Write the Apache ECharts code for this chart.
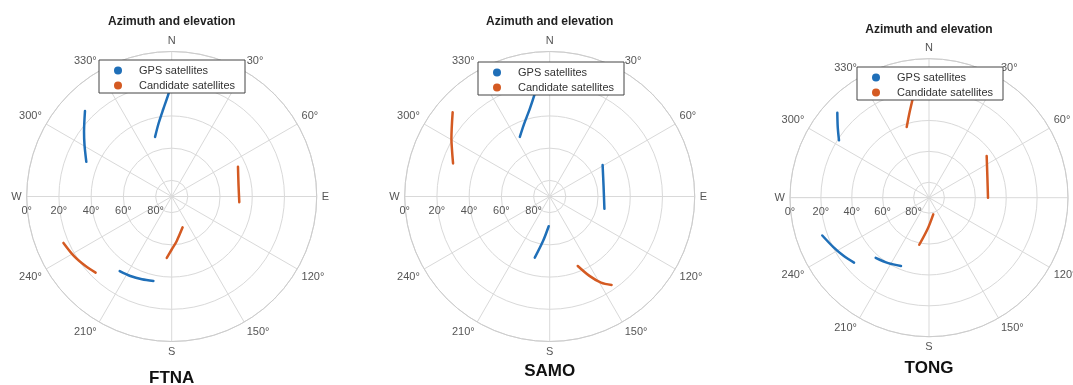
<!DOCTYPE html>
<html>
<head>
<meta charset="utf-8">
<title>Azimuth and elevation</title>
<script src="https://cdn.jsdelivr.net/npm/echarts@6/dist/echarts.min.js"></script>
<style>
  html, body { margin: 0; padding: 0; background: #ffffff; }
  #chart { width: 1073px; height: 385px; }
</style>
</head>
<body>
<div id="chart"></div>
<script>
// Sky tracks per station: each track is a list of [azimuth°, elevation°] samples.
const stations = ['FTNA', 'SAMO', 'TONG'];
const seriesNames = ['GPS satellites', 'Candidate satellites'];
const elevationTicks = [0, 20, 40, 60, 80];
const compassLabels = { 0: 'N', 90: 'E', 180: 'S', 270: 'W' };

const ftnaGps = [
  [[314.6, 14.4], [306.4, 22.4], [300.5, 27.2], [292.1, 32.8]],
  [[359.5, 20.2], [358.2, 26.3], [354.6, 35.3], [349.7, 44.1], [344.4, 51.6]],
  [[214.9, 33.6], [207.5, 34.4], [199.8, 35.4], [192.2, 36.4]]
];
const ftnaCandidate = [
  [[65.8, 44.9], [80.1, 47.9], [94.8, 47.9]],
  [[160.5, 69.7], [173.7, 62.1], [180.0, 57.1], [184.6, 51.8]],
  [[246.8, 16.9], [238.6, 19.0], [231.1, 21.3], [225.0, 23.2]]
];

const samoGps = [
  [[353.8, 19.7], [351.7, 25.6], [347.2, 34.2], [340.7, 42.1], [333.4, 48.6]],
  [[59.3, 51.8], [79.6, 56.0], [102.6, 55.2]],
  [[181.9, 71.5], [188.5, 62.0], [193.7, 50.9]]
];
const samoCandidate = [
  [[311.0, 10.2], [300.5, 19.2], [294.6, 23.4], [288.9, 26.6]],
  [[158.0, 43.5], [153.4, 34.9], [149.2, 27.8], [145.0, 23.0]]
];

const tongGps = [
  [[312.8, 9.1], [307.8, 15.2], [302.5, 20.9]],
  [[250.5, 16.7], [242.7, 20.3], [235.6, 23.2], [229.1, 25.8]],
  [[221.6, 38.0], [211.9, 40.1], [202.3, 42.2]]
];
const tongCandidate = [
  [[352.2, 19.9], [350.3, 26.0], [346.8, 34.1], [342.5, 42.0]],
  [[54.1, 43.9], [70.5, 49.9], [90.0, 51.8]],
  [[165.6, 78.9], [182.4, 69.9], [191.7, 58.9]]
];

const stationTracks = [
  [ftnaGps, ftnaCandidate],
  [samoGps, samoCandidate],
  [tongGps, tongCandidate]
];

// Panel layout
const panels = [
  { cx: 171.7, cy: 196.5, r: 145, titleY: 16, nameY: 370, legendX: 99, legendY: 60 },
  { cx: 549.7, cy: 196.5, r: 145, titleY: 16, nameY: 363, legendX: 478, legendY: 62 },
  { cx: 929.0, cy: 197.7, r: 139, titleY: 24, nameY: 360, legendX: 857, legendY: 67 }
];

const colors = ['#1f6fb8', '#d45a22'];
const FONT = '"Liberation Sans", Arial, Helvetica, sans-serif';
const gridColor = '#d9d9d9';

// The angle axis starts at the west (left) so the elevation labels run along the W spoke.
// Azimuths are shifted into [270, 630) so that north lands at the top going clockwise.
function toAxisAngle(az) { return az < 270 ? az + 360 : az; }

const option = {
  animation: false,
  backgroundColor: '#ffffff',
  title: [],
  legend: [],
  polar: [],
  angleAxis: [],
  radiusAxis: [],
  series: []
};

panels.forEach((p, i) => {
  option.title.push({
    text: 'Azimuth and elevation',
    left: p.cx, top: p.titleY, textAlign: 'center', padding: 0,
    textStyle: { fontFamily: FONT, fontSize: 12, fontWeight: 'bold', color: '#222' }
  });
  option.title.push({
    text: stations[i],
    left: p.cx, top: p.nameY, textAlign: 'center', padding: 0,
    textStyle: { fontFamily: FONT, fontSize: 17, fontWeight: 'bold', color: '#111' }
  });

  option.polar.push({ center: [p.cx, p.cy], radius: p.r });

  option.angleAxis.push({
    polarIndex: i,
    type: 'value',
    min: 270, max: 630, interval: 30,
    startAngle: 180, clockwise: true,
    axisLine: { show: true, lineStyle: { color: '#cccccc', width: 1 } },
    axisTick: { show: false },
    splitLine: { show: true, lineStyle: { color: gridColor, width: 1 } },
    axisLabel: {
      margin: 5,
      fontFamily: FONT, fontSize: 11, color: '#555',
      formatter: v => {
        const a = ((v % 360) + 360) % 360;
        return compassLabels[a] !== undefined ? compassLabels[a] : a + '°';
      }
    }
  });

  option.radiusAxis.push({
    polarIndex: i,
    type: 'value',
    min: 0, max: 90, interval: 20,
    inverse: true,
    axisLine: { show: true, lineStyle: { color: gridColor, width: 1 } },
    axisTick: { show: false },
    splitLine: { show: true, lineStyle: { color: gridColor, width: 1 } },
    axisLabel: {
      margin: 9,
      fontFamily: FONT, fontSize: 11, color: '#555',
      formatter: v => (elevationTicks.indexOf(v) >= 0 ? v + '°' : '')
    }
  });

  option.legend.push({
    orient: 'vertical',
    left: p.legendX, top: p.legendY,
    data: seriesNames,
    icon: 'circle',
    itemWidth: 8, itemHeight: 8, itemGap: 2,
    padding: [4, 10, 1, 15],
    backgroundColor: '#ffffff',
    borderColor: '#444', borderWidth: 1, borderRadius: 0,
    selectedMode: false,
    textStyle: { fontFamily: FONT, fontSize: 11, color: '#333', lineHeight: 13, padding: [0, 0, 0, 12] }
  });

  stationTracks[i].forEach((tracks, k) => {
    tracks.forEach(track => {
      option.series.push({
        type: 'line',
        name: seriesNames[k],
        coordinateSystem: 'polar',
        polarIndex: i,
        showSymbol: false,
        smooth: 0.3,
        color: colors[k],
        lineStyle: { color: colors[k], width: 2.5, cap: 'round', join: 'round' },
        data: track.map(([az, el]) => [el, toAxisAngle(az)]),
        z: 3
      });
    });
  });
});

const chart = echarts.init(document.getElementById('chart'), null, { renderer: 'canvas' });
chart.setOption(option);
</script>
</body>
</html>
